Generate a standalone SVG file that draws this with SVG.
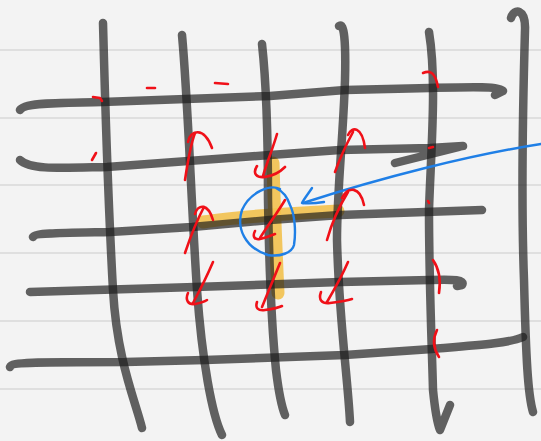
<svg xmlns="http://www.w3.org/2000/svg" width="541" height="441" viewBox="0 0 541 441">
<style>
.rule{stroke:#d9d9d9;stroke-width:1.5;fill:none}
.ink{stroke:#1a1a1a;stroke-opacity:0.68;stroke-width:8.5;fill:none;stroke-linecap:round;stroke-linejoin:round}
.hl{stroke:#f2c14e;stroke-opacity:0.9;stroke-width:13;fill:none;stroke-linecap:round}
.red{stroke:#f01018;stroke-width:2.6;fill:none;stroke-linecap:round;stroke-linejoin:round}
.blue{stroke:#1f7fe6;stroke-width:2.4;fill:none;stroke-linecap:round;stroke-linejoin:round}
</style>
<rect width="541" height="441" fill="#f3f3f3"/>
<g id="paper">
<line class="rule" x1="0" y1="50" x2="541" y2="50"/>
<line class="rule" x1="0" y1="118" x2="541" y2="118"/>
<line class="rule" x1="0" y1="185" x2="541" y2="185"/>
<line class="rule" x1="0" y1="253" x2="541" y2="253"/>
<line class="rule" x1="0" y1="321" x2="541" y2="321"/>
<line class="rule" x1="0" y1="389" x2="541" y2="389"/>
</g>
<g id="highlight">
<path class="hl" d="M273,163 C274,200 276,250 278,293"/>
<path class="hl" d="M203,222 C240,216 300,213 338,211"/>
</g>
<g id="grid">
<path class="ink" d="M103,23 C105,100 108,200 113,290 C117,360 135,400 142,428"/>
<path class="ink" d="M182,35 C188,100 191,200 197,290 C202,360 212,415 222,435"/>
<path class="ink" d="M262,44 C266,80 268,140 268,200 C269,260 272,330 276,370 C279,395 283,410 285,415"/>
<path class="ink" d="M339,26 C344,22 346,40 345,80 C343,140 337,190 337,240 C339,320 348,380 350,422"/>
<path class="ink" d="M429,32 C437,80 431,150 429,210 C429,280 432,350 433,390 C435,410 438,425 440,430 L450,405"/>
<path class="ink" d="M511,18 C514,8 526,8 525,30 C523,100 521,200 524,280 C526,360 528,395 533,412"/>
<path class="ink" d="M20,110 C24,102 60,103 102,102 L270,96 L345,90 L430,88 C470,87 500,86 503,91 L495,95"/>
<path class="ink" d="M20,160 C30,170 60,168 107,167 L270,155 L340,150 L430,148 L463,146 L395,163"/>
<path class="ink" d="M33,237 C35,233 60,233 110,232 L192,227 L270,220 L340,215 L482,210"/>
<path class="ink" d="M30,292 L195,287 L340,282 L430,280 C455,279 465,280 462,285 L457,286"/>
<path class="ink" d="M10,367 C12,362 30,362 125,362 L205,360 L345,355 L432,349 C480,345 510,343 523,337"/>
</g>
<g id="blue-marks">
<path class="blue" d="M280,189 C270,184 250,192 242,210 C236,228 245,248 268,255 C280,257 292,253 294,245 C296,232 295,215 290,205 C287,197 284,192 276,188"/>
<path class="blue" d="M541,144 C470,155 380,178 303,203"/>
<path class="blue" d="M312,188 C308,194 304,199 302,203 C310,204 318,203 324,202"/>
</g>
<g id="red-marks">
<path class="red" d="M185,180 C188,160 190,146 195,133"/>
<path class="red" d="M188,142 C190,130 204,126 212,148"/>
<path class="red" d="M335,172 C340,158 346,145 353,132"/>
<path class="red" d="M348,135 C352,126 362,126 365,148"/>
<path class="red" d="M185,253 C190,238 196,222 204,207"/>
<path class="red" d="M195,214 C198,204 208,203 213,220"/>
<path class="red" d="M327,240 C332,222 340,205 348,192"/>
<path class="red" d="M342,198 C348,186 360,186 364,205"/>
<path class="red" d="M277,134 C273,148 267,162 263,176"/>
<path class="red" d="M257,166 C252,174 257,178 265,177 C272,176 280,172 285,167"/>
<path class="red" d="M285,200 C278,212 268,225 260,238"/>
<path class="red" d="M255,231 C252,237 255,240 260,239 C265,238 270,236 275,234"/>
<path class="red" d="M213,262 C207,276 200,290 193,303"/>
<path class="red" d="M188,293 C185,300 188,305 195,304 C200,303 204,302 207,300"/>
<path class="red" d="M280,263 C274,278 268,292 262,307"/>
<path class="red" d="M257,302 C255,308 258,311 265,310 C272,309 278,308 282,306"/>
<path class="red" d="M348,262 C342,276 334,290 327,302"/>
<path class="red" d="M321,292 C318,300 322,304 330,303 C338,302 346,301 352,299"/>
<path class="red" d="M93,97 L100,98 L102,101"/>
<path class="red" d="M147,88 L155,88"/>
<path class="red" d="M215,83 L228,84"/>
<path class="red" d="M423,73 C430,70 435,72 438,87"/>
<path class="red" d="M92,160 L96,153"/>
<path class="red" d="M429,148 L433,147"/>
<path class="red" d="M428,201 L429,203"/>
<path class="red" d="M433,260 C440,270 441,280 439,293"/>
<path class="red" d="M437,330 C433,338 433,348 439,357"/>
</g>
</svg>
